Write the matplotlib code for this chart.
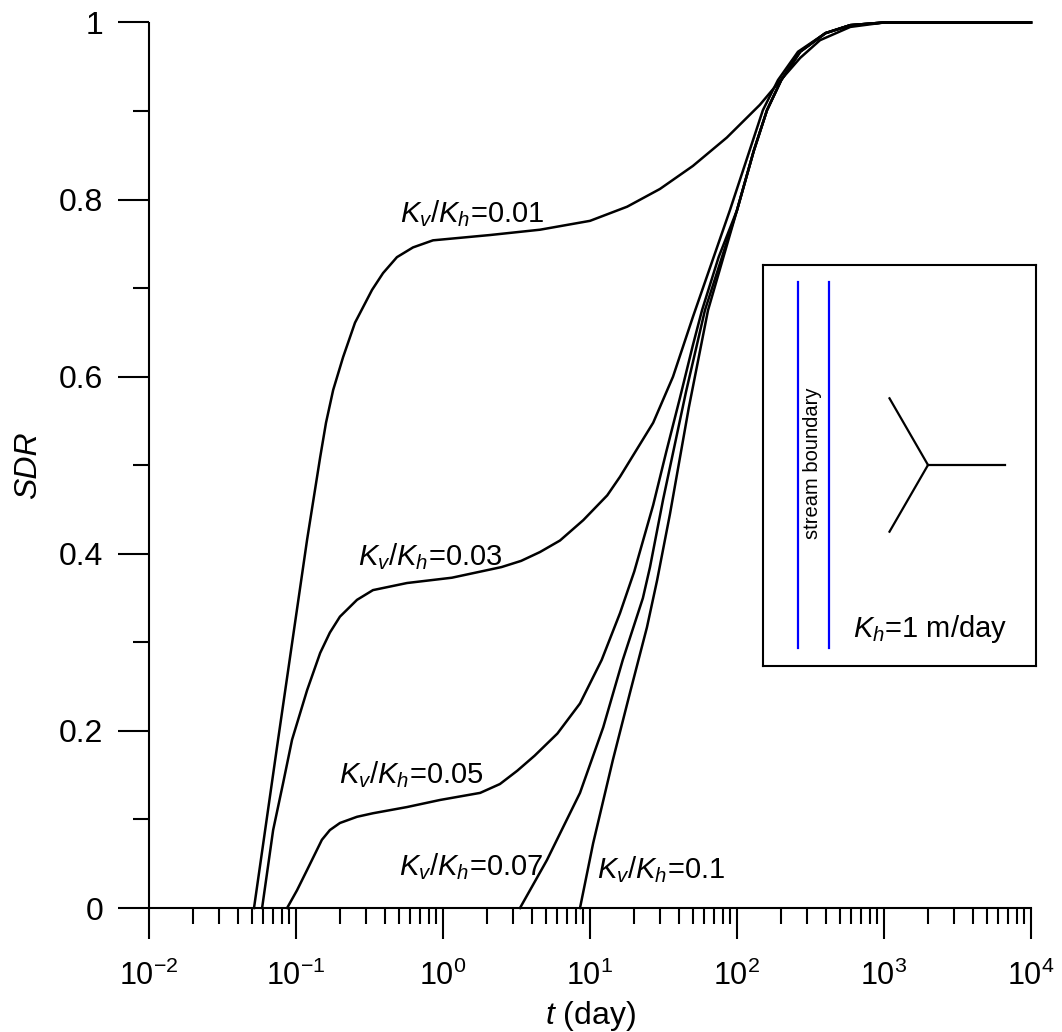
import numpy as np
import matplotlib
matplotlib.use('Agg')
import matplotlib.pyplot as plt
from matplotlib.ticker import LogLocator, MultipleLocator, FuncFormatter, NullFormatter

plt.rcParams['font.family'] = 'Liberation Sans'
plt.rcParams['mathtext.fontset'] = 'custom'
plt.rcParams['mathtext.rm'] = 'Liberation Sans'
plt.rcParams['mathtext.it'] = 'Liberation Sans:italic'
plt.rcParams['axes.unicode_minus'] = False

# SDR vs time for each Kv/Kh ratio
t_001 = [0.0518, 0.0755, 0.119, 0.1346, 0.146, 0.160, 0.179, 0.209, 0.252, 0.329, 0.391,
         0.486, 0.625, 0.855, 2.09, 4.57, 10.0, 17.9, 29.9, 50.1, 85.2, 143, 187,
         269, 367, 590, 1000, 10000]
sdr_001 = [0.0, 0.19, 0.416, 0.472, 0.509, 0.548, 0.585, 0.622, 0.661, 0.698, 0.717,
           0.735, 0.746, 0.754, 0.760, 0.766, 0.776, 0.792, 0.812, 0.838, 0.870, 0.907, 0.930,
           0.960, 0.980, 0.995, 1.0, 1.0]

t_003 = [0.0588, 0.0699, 0.0817, 0.094, 0.119, 0.146, 0.170, 0.199, 0.260, 0.334, 0.569,
         1.15, 2.5, 3.4, 4.57, 6.25, 9.0, 13.1, 16, 26.9, 36.7, 50, 89.5, 150, 190, 260,
         400, 590, 1000, 10000]
sdr_003 = [0.0, 0.088, 0.141, 0.19, 0.246, 0.288, 0.311, 0.329, 0.348, 0.359, 0.367,
           0.373, 0.385, 0.392, 0.402, 0.415, 0.438, 0.466, 0.487, 0.548, 0.600, 0.667, 0.788,
           0.901, 0.935, 0.967, 0.988, 0.997, 1.0, 1.0]

t_005 = [0.087, 0.1016, 0.119, 0.150, 0.170, 0.199, 0.260, 0.334, 0.569, 0.955, 1.79,
         2.44, 3.2, 4.2, 6.0, 8.55, 12, 16, 20, 26.9, 33, 40.9, 50, 57.8, 75, 100, 130,
         160, 200, 269, 400, 590, 1000, 10000]
sdr_005 = [0.0, 0.020, 0.043, 0.077, 0.088, 0.096, 0.103, 0.107, 0.114, 0.122, 0.130,
           0.140, 0.155, 0.172, 0.197, 0.231, 0.280, 0.333, 0.380, 0.455, 0.515, 0.576, 0.635,
           0.675, 0.735, 0.788, 0.855, 0.901, 0.935, 0.967, 0.988, 0.997, 1.0, 1.0]

t_007 = [3.34, 5.09, 8.55, 12.3, 16.7, 22.9, 25.6, 31.4, 45, 60.5, 100, 130, 160, 200,
         269, 400, 590, 1000, 10000]
sdr_007 = [0.0, 0.054, 0.130, 0.204, 0.280, 0.350, 0.385, 0.461, 0.583, 0.675, 0.788,
           0.855, 0.901, 0.935, 0.967, 0.988, 0.997, 1.0, 1.0]

t_01 = [8.55, 10.5, 14.3, 18.7, 24.4, 28.6, 35, 47, 63.5, 100, 130, 160, 200, 269, 400,
        590, 1000, 10000]
sdr_01 = [0.0, 0.073, 0.167, 0.243, 0.317, 0.370, 0.445, 0.565, 0.675, 0.788, 0.855,
          0.901, 0.935, 0.967, 0.988, 0.997, 1.0, 1.0]

series = [(t_001, sdr_001), (t_003, sdr_003), (t_005, sdr_005),
          (t_007, sdr_007), (t_01, sdr_01)]

labels = ['0.01', '0.03', '0.05', '0.07', '0.1']
label_t = [0.509, 0.264, 0.196, 0.502, 11.2]
label_y = [0.775, 0.387, 0.141, 0.037, 0.034]

fig = plt.figure(figsize=(10.62, 10.32), dpi=100)
ax = fig.add_axes([149 / 1062, 124 / 1032, 882 / 1062, 885.5 / 1032])

for t, s in series:
    ax.plot(t, s, color='k', lw=1.8, clip_on=False, solid_joinstyle='round')

for lab, tx, ty in zip(labels, label_t, label_y):
    ax.text(tx, ty, r'$K_v/K_h$=' + lab, fontsize=21, ha='left', va='baseline')

ax.set_xscale('log')
ax.set_xlim(1e-2, 1e4)
ax.set_ylim(0, 1)
ax.spines['top'].set_visible(False)
ax.spines['right'].set_visible(False)
ax.spines['left'].set_linewidth(1.5)
ax.spines['bottom'].set_linewidth(1.5)

ax.xaxis.set_major_locator(LogLocator(base=10, numticks=12))
ax.xaxis.set_minor_locator(LogLocator(base=10, subs=np.arange(2, 10), numticks=100))
ax.xaxis.set_minor_formatter(NullFormatter())
ax.yaxis.set_major_locator(MultipleLocator(0.2))
ax.yaxis.set_minor_locator(MultipleLocator(0.1))
ax.yaxis.set_major_formatter(FuncFormatter(lambda v, p: '%g' % round(v, 2)))

ax.tick_params(which='major', length=22, width=1.5, direction='out', labelsize=22)
ax.tick_params(which='minor', length=11.5, width=1.5, direction='out')
ax.tick_params(axis='x', which='major', pad=16)
ax.tick_params(axis='y', which='major', pad=11, labelsize=23)

ax.set_xlabel(r'$t$ (day)', fontsize=23, labelpad=5)
ax.set_ylabel('SDR', fontsize=23, style='italic', labelpad=11)

# inset sketch (pixel units inside the box)
box_w, box_h = 273, 401
ins = fig.add_axes([763 / 1062, (1032 - 666) / 1032, box_w / 1062, box_h / 1032])
ins.set_xlim(0, box_w)
ins.set_ylim(0, box_h)
ins.set_xticks([])
ins.set_yticks([])
for sp in ins.spines.values():
    sp.set_linewidth(1.5)

stream_x = [35, 66]
for sx in stream_x:
    ins.plot([sx, sx], [18, 384], color='#0000ff', lw=1.6)
ins.text(50, 203, 'stream boundary', rotation=90, fontsize=14.5, ha='center', va='center')

well_x, well_y, arm = 165, 201, 77
for ang in [0, 120, 240]:
    a = np.deg2rad(ang)
    ins.plot([well_x, well_x + arm * np.cos(a)], [well_y, well_y + arm * np.sin(a)],
             color='k', lw=1.6)
ins.text(90, 29, r'$K_h$=1 m/day', fontsize=21, ha='left', va='baseline')

fig.savefig('out.png', dpi=100)
